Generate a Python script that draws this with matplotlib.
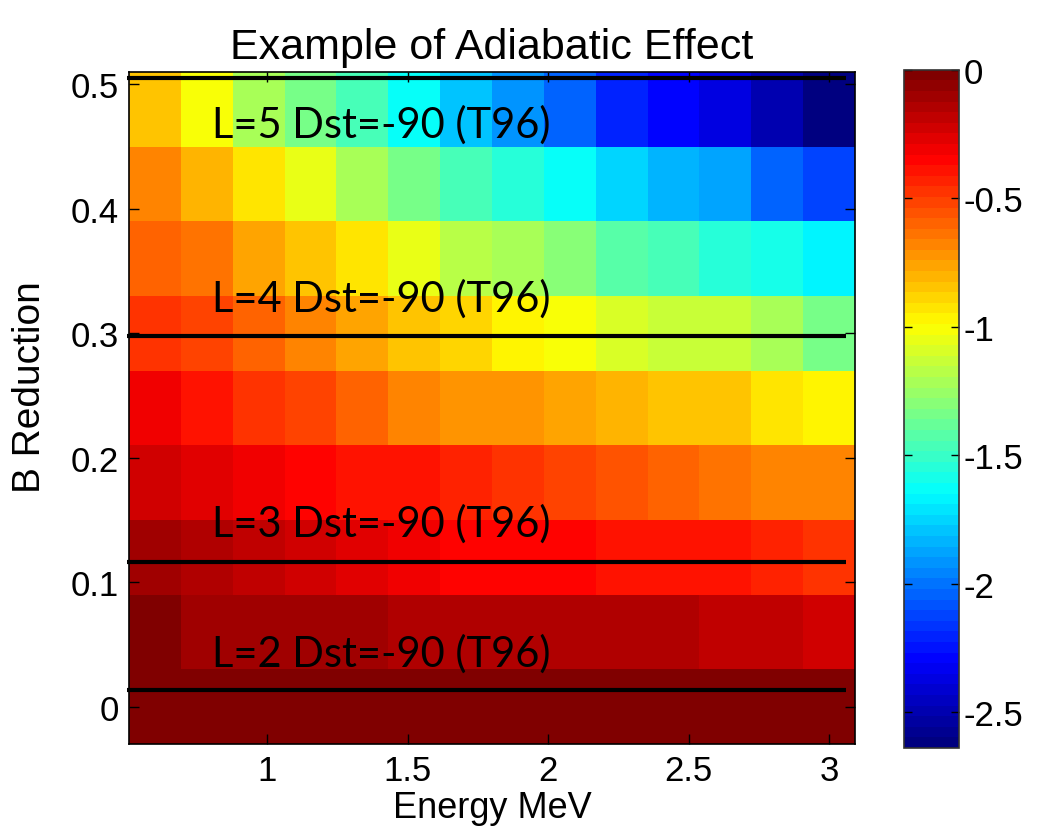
#!/usr/bin/env python3
"""
Adiabatic effect example: B reduction vs energy, coloured by the flux change.
"""

import numpy as np
import matplotlib
matplotlib.use("Agg")
import matplotlib.pyplot as plt
from matplotlib.colors import LinearSegmentedColormap

plt.rcParams["font.family"] = ["Liberation Sans", "DejaVu Sans"]
plt.rcParams["axes.unicode_minus"] = False

# -------------------------------------------------------------
# Data
# -------------------------------------------------------------
energy = [0.6, 0.785, 0.969, 1.154, 1.338, 1.523, 1.708,
          1.892, 2.077, 2.262, 2.446, 2.631, 2.815, 3.0]
b_reduction = [0.0, 0.06, 0.12, 0.18, 0.24, 0.30, 0.36, 0.42, 0.48]

# one row per B reduction value (bottom -> top), one column per energy
effect = [
    [0.0, 0.0, 0.0, 0.0, 0.0, 0.0, 0.0, 0.0, 0.0, 0.0, 0.0, 0.0, 0.0, 0.0],
    [-0.03, -0.09, -0.10, -0.11, -0.12, -0.14, -0.15, -0.16, -0.16, -0.16, -0.16, -0.17, -0.18, -0.21],
    [-0.11, -0.14, -0.18, -0.22, -0.27, -0.29, -0.34, -0.36, -0.37, -0.38, -0.38, -0.39, -0.42, -0.46],
    [-0.23, -0.25, -0.31, -0.36, -0.39, -0.40, -0.45, -0.49, -0.52, -0.57, -0.61, -0.63, -0.67, -0.69],
    [-0.33, -0.38, -0.46, -0.50, -0.61, -0.67, -0.71, -0.73, -0.77, -0.82, -0.86, -0.86, -0.94, -0.99],
    [-0.46, -0.51, -0.60, -0.68, -0.77, -0.85, -0.90, -0.95, -1.03, -1.10, -1.12, -1.15, -1.23, -1.33],
    [-0.59, -0.65, -0.76, -0.85, -0.94, -1.07, -1.16, -1.23, -1.31, -1.42, -1.47, -1.53, -1.60, -1.69],
    [-0.69, -0.79, -0.92, -1.07, -1.21, -1.33, -1.46, -1.53, -1.65, -1.77, -1.85, -1.88, -2.03, -2.12],
    [-0.85, -1.03, -1.20, -1.34, -1.47, -1.65, -1.79, -1.92, -2.05, -2.20, -2.28, -2.38, -2.51, -2.63],
]
vmin, vmax = -2.64, 0.0

# B reduction reached at each L shell (Dst=-90, T96)
shell_b = [0.0135, 0.116, 0.298, 0.505]
shell_labels = ["L=2 Dst=-90 (T96)", "L=3 Dst=-90 (T96)",
                "L=4 Dst=-90 (T96)", "L=5 Dst=-90 (T96)"]
label_b = [0.033, 0.137, 0.318, 0.458]
line_energy = [0.5, 3.06]

xticks = [1, 1.5, 2, 2.5, 3]
yticks = [0, 0.1, 0.2, 0.3, 0.4, 0.5]
cticks = [0, -0.5, -1, -1.5, -2, -2.5]

# -------------------------------------------------------------
# MATLAB style jet (64 colours)
# -------------------------------------------------------------
jet_m = LinearSegmentedColormap("jet_m", {
    "red":   [(0, 0, 0), (3/8, 0, 0), (5/8, 1, 1), (7/8, 1, 1), (1, 0.5, 0.5)],
    "green": [(0, 0, 0), (1/8, 0, 0), (3/8, 1, 1), (5/8, 1, 1), (7/8, 0, 0), (1, 0, 0)],
    "blue":  [(0, 0.5, 0.5), (1/8, 1, 1), (3/8, 1, 1), (5/8, 0, 0), (1, 0, 0)],
}, N=64)

# -------------------------------------------------------------
# Plot
# -------------------------------------------------------------
fig = plt.figure(figsize=(10.45, 8.37), dpi=100)
ax = fig.add_axes([0.1234, 0.1099, 0.6947, 0.8029])
cax = fig.add_axes([0.8651, 0.1051, 0.0526, 0.8104])

mesh = ax.pcolormesh(energy, b_reduction, np.array(effect), cmap=jet_m,
                     vmin=vmin, vmax=vmax, shading="nearest")

for yb in shell_b:
    ax.plot(line_energy, [yb, yb], color="black", lw=3, clip_on=False,
            solid_capstyle="butt", zorder=5)
for yb, txt in zip(label_b, shell_labels):
    ax.text(0.805, yb, txt, fontsize=30, family=["Lato", "DejaVu Sans"],
            va="baseline", ha="left", zorder=6)

ax.set_xlim(0.5077, 3.0923)
ax.set_ylim(-0.03, 0.51)
ax.set_xticks(xticks, [f"{v:g}" for v in xticks])
ax.set_yticks(yticks, [f"{v:g}" for v in yticks])
ax.tick_params(direction="in", length=7, width=1, top=True, right=True,
               labelsize=25, pad=7)
for s in ax.spines.values():
    s.set_linewidth(1.2)

ax.set_title("Example of Adiabatic Effect", fontsize=31, pad=10)
ax.set_xlabel("Energy MeV", fontsize=26, labelpad=2)
ax.set_ylabel("B Reduction", fontsize=28)
ax.yaxis.set_label_coords(-0.112, 0.533)

cb = fig.colorbar(mesh, cax=cax, ticks=cticks)
cb.ax.set_yticklabels([f"{v:g}" for v in cticks])
cb.ax.tick_params(direction="in", length=6, width=1, left=True, right=True,
                  labelsize=25, pad=3)
cb.outline.set_linewidth(1.2)
cb.outline.set_edgecolor("#333333")

fig.savefig("out.png", dpi=100)
